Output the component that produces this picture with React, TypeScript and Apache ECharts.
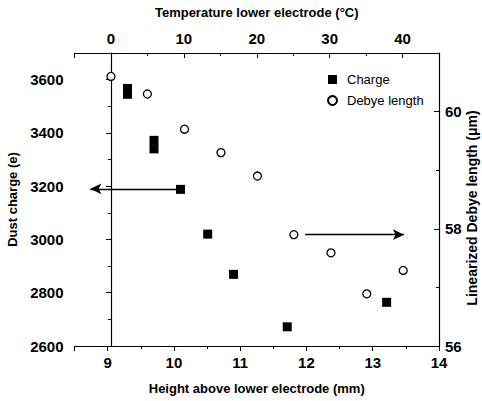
import React, { useEffect, useRef } from "react";
import * as echarts from "echarts";

// Data
const chargeHeight = [9.3, 9.3, 9.7, 9.7, 10.1, 10.51, 10.9, 11.71, 13.21];
const chargeValue = [3567, 3545, 3372, 3340, 3188, 3020, 2869, 2672, 2764];
const debyeHeight = [9.05, 9.6, 10.16, 10.71, 11.26, 11.81, 12.37, 12.91, 13.46];
const debyeValue = [60.6, 60.3, 59.7, 59.3, 58.9, 57.9, 57.59, 56.89, 57.29];

// Tick labels
const heightTicks = [9, 10, 11, 12, 13, 14];
const tempTicks = [0, 10, 20, 30, 40];
const chargeTicks = [2600, 2800, 3000, 3200, 3400, 3600];
const debyeTicks = [56, 58, 60];

// Arrow annotations (start -> end)
const chargeArrow = [[10.09, 3190], [8.74, 3190]];
const debyeArrow = [[11.98, 57.9], [13.47, 57.9]];

const FONT = "'Liberation Sans', Arial, sans-serif";
const fmt = (list: number[]) => (v: number) => (list.includes(v) ? String(v) : "");

export default function App() {
  const ref = useRef<HTMLDivElement>(null);
  useEffect(() => {
    document.body.style.margin = "0";
    const chart = echarts.init(ref.current!, null, { renderer: "svg" });
    const lbl = { fontFamily: FONT, fontWeight: "bold" as const, fontSize: 15, color: "#000" };
    const nameStyle = { fontFamily: FONT, fontWeight: "bold" as const, fontSize: 13, color: "#000" };
    const line = { show: true, lineStyle: { color: "#000", width: 1.2 } };
    const noLine = { show: false };
    const tick = (len: number, inside: boolean) => ({
      show: true,
      inside,
      length: len,
      lineStyle: { color: "#000", width: 1 },
    });
    chart.setOption({
      animation: false,
      backgroundColor: "#fff",
      grid: { left: 74.5, top: 53, width: 364.5, height: 293, containLabel: false, outerBoundsMode: "none" },
      legend: {
        orient: "vertical",
        left: 322,
        top: 68,
        itemWidth: 9,
        itemHeight: 9,
        itemGap: 8,
        textStyle: { fontFamily: FONT, fontSize: 13, color: "#000", padding: [0, 0, 0, 5] },
        data: ["Charge", "Debye length"],
      },
      graphic: [
        {
          type: "text",
          x: 472,
          y: 208,
          rotation: Math.PI / 2,
          style: {
            text: "Linearized Debye length (μm)",
            fontFamily: FONT,
            fontWeight: "bold",
            fontSize: 14,
            fill: "#000",
            align: "center",
            verticalAlign: "middle",
          },
        },
      ],
      xAxis: [
        {
          type: "value",
          position: "bottom",
          min: 8.5,
          max: 14,
          minInterval: 1,
          maxInterval: 1,
          splitNumber: 6,
          axisLine: line,
          axisTick: tick(5, false),
          splitLine: { show: false },
          axisLabel: { ...lbl, margin: 9, formatter: fmt(heightTicks) },
          name: "Height above lower electrode (mm)",
          nameLocation: "middle",
          nameGap: 36,
          nameTextStyle: nameStyle,
        },
        {
          type: "value",
          position: "bottom",
          min: 8.5,
          max: 14,
          interval: 0.5,
          axisLine: noLine,
          axisTick: tick(3, false),
          splitLine: { show: false },
          axisLabel: { show: false },
        },
        {
          type: "value",
          position: "top",
          min: -5,
          max: 45,
          minInterval: 10,
          maxInterval: 10,
          splitNumber: 5,
          axisLine: line,
          axisTick: tick(5, true),
          splitLine: { show: false },
          axisLabel: { ...lbl, margin: 7, formatter: fmt(tempTicks) },
          name: "Temperature lower electrode (°C)",
          nameLocation: "middle",
          nameGap: 34,
          nameTextStyle: nameStyle,
        },
        {
          type: "value",
          position: "top",
          min: -5,
          max: 45,
          interval: 5,
          axisLine: noLine,
          axisTick: tick(3, true),
          splitLine: { show: false },
          axisLabel: { show: false },
        },
      ],
      yAxis: [
        {
          type: "value",
          position: "left",
          min: 2600,
          max: 3700,
          interval: 200,
          axisLine: line,
          axisTick: tick(5, false),
          splitLine: { show: false },
          axisLabel: { ...lbl, margin: 11, formatter: fmt(chargeTicks) },
          name: "Dust charge (e)",
          nameLocation: "middle",
          nameGap: 52,
          nameRotate: 90,
          nameTextStyle: nameStyle,
        },
        {
          type: "value",
          position: "left",
          min: 2600,
          max: 3700,
          interval: 100,
          axisLine: noLine,
          axisTick: tick(3, false),
          splitLine: { show: false },
          axisLabel: { show: false },
        },
        {
          type: "value",
          position: "right",
          min: 56,
          max: 61,
          interval: 2,
          axisLine: line,
          axisTick: tick(5, true),
          splitLine: { show: false },
          axisLabel: { ...lbl, margin: 6, formatter: fmt(debyeTicks) },
        },
        {
          type: "value",
          position: "right",
          min: 56,
          max: 61,
          interval: 1,
          axisLine: noLine,
          axisTick: tick(3, true),
          splitLine: { show: false },
          axisLabel: { show: false },
        },
      ],
      series: [
        {
          name: "Charge",
          type: "scatter",
          xAxisIndex: 0,
          yAxisIndex: 0,
          symbol: "rect",
          symbolSize: 9,
          itemStyle: { color: "#000", opacity: 1 },
          data: chargeHeight.map((h, i) => [h, chargeValue[i]]),
          markLine: {
            silent: true,
            symbol: ["none", "arrow"],
            symbolSize: [8, 11],
            label: { show: false },
            lineStyle: { color: "#000", width: 1.3, type: "solid", opacity: 1 },
            data: [[{ coord: chargeArrow[0] }, { coord: chargeArrow[1] }]],
          },
        },
        {
          name: "Debye length",
          type: "scatter",
          xAxisIndex: 0,
          yAxisIndex: 2,
          symbol: "circle",
          symbolSize: 8,
          itemStyle: { color: "#fff", borderColor: "#000", borderWidth: 1.3, opacity: 1 },
          data: debyeHeight.map((h, i) => [h, debyeValue[i]]),
          markLine: {
            silent: true,
            symbol: ["none", "arrow"],
            symbolSize: [8, 11],
            label: { show: false },
            lineStyle: { color: "#000", width: 1.3, type: "solid", opacity: 1 },
            data: [[{ coord: debyeArrow[0] }, { coord: debyeArrow[1] }]],
          },
        },
      ],
    });
    return () => chart.dispose();
  }, []);
  return (
    <div
      ref={ref}
      style={{ position: "absolute", left: 0, top: 0, width: 482, height: 401 }}
    />
  );
}
